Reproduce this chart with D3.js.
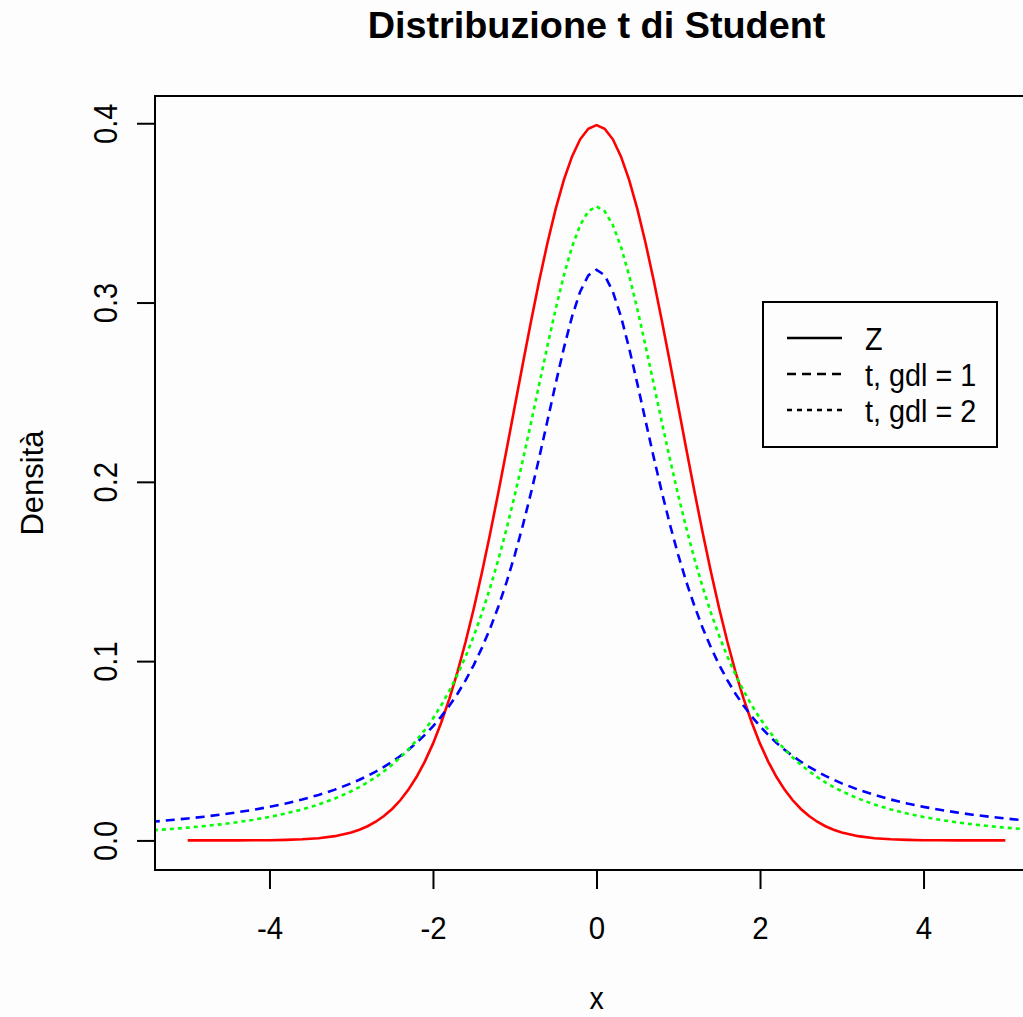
<!DOCTYPE html>
<html>
<head>
<meta charset="utf-8">
<script src="https://cdn.jsdelivr.net/npm/d3@7"></script>
<style>
  html, body { margin: 0; padding: 0; background: #fdfdfd; }
  svg { display: block; }
  text { font-family: "Liberation Sans", Arial, sans-serif; fill: #000; }
</style>
</head>
<body>
<script>
// Grid of x values for the t densities (finer near the centre)
const xT = [-6,-5.8,-5.6,-5.4,-5.2,-5,-4.8,-4.6,-4.4,-4.2,-4,-3.8,-3.6,-3.4,-3.2,
  -3,-2.9,-2.8,-2.7,-2.6,-2.5,-2.4,-2.3,-2.2,-2.1,-2,-1.9,-1.8,-1.7,-1.6,-1.5,-1.4,-1.3,-1.2,-1.1,
  -1,-0.9,-0.8,-0.7,-0.6,-0.5,-0.4,-0.3,-0.2,-0.1,0,0.1,0.2,0.3,0.4,0.5,0.6,0.7,0.8,0.9,
  1,1.1,1.2,1.3,1.4,1.5,1.6,1.7,1.8,1.9,2,2.1,2.2,2.3,2.4,2.5,2.6,2.7,2.8,2.9,3,
  3.2,3.4,3.6,3.8,4,4.2,4.4,4.6,4.8,5,5.2,5.4,5.6,5.8,6];

// Student t density, 1 degree of freedom
const densT1 = [0.00860,0.00919,0.00984,0.01055,0.01135,0.01224,0.01324,0.01436,0.01563,0.01708,
  0.01872,0.02062,0.02280,0.02534,0.02832,
  0.03183,0.03383,0.03601,0.03840,0.04102,0.04390,0.04709,0.05061,0.05451,0.05884,
  0.06366,0.06905,0.07507,0.08183,0.08941,0.09794,0.10754,0.11833,0.13046,0.14403,
  0.15915,0.17586,0.19409,0.21363,0.23405,0.25465,0.27441,0.29203,0.30607,0.31516,
  0.31831,
  0.31516,0.30607,0.29203,0.27441,0.25465,0.23405,0.21363,0.19409,0.17586,0.15915,
  0.14403,0.13046,0.11833,0.10754,0.09794,0.08941,0.08183,0.07507,0.06905,0.06366,
  0.05884,0.05451,0.05061,0.04709,0.04390,0.04102,0.03840,0.03601,0.03383,0.03183,
  0.02832,0.02534,0.02280,0.02062,0.01872,0.01708,0.01563,0.01436,0.01324,0.01224,
  0.01135,0.01055,0.00984,0.00919,0.00860];

// Student t density, 2 degrees of freedom
const densT2 = [0.00427,0.00470,0.00519,0.00575,0.00639,0.00713,0.00798,0.00897,0.01013,0.01149,
  0.01309,0.01500,0.01728,0.02003,0.02335,
  0.02741,0.02977,0.03240,0.03532,0.03857,0.04220,0.04626,0.05080,0.05590,0.06162,
  0.06804,0.07526,0.08337,0.09248,0.10270,0.11413,0.12690,0.14108,0.15673,0.17388,
  0.19245,0.21230,0.23313,0.25451,0.27582,0.29629,0.31501,0.33097,0.34321,0.35092,
  0.35355,
  0.35092,0.34321,0.33097,0.31501,0.29629,0.27582,0.25451,0.23313,0.21230,0.19245,
  0.17388,0.15673,0.14108,0.12690,0.11413,0.10270,0.09248,0.08337,0.07526,0.06804,
  0.06162,0.05590,0.05080,0.04626,0.04220,0.03857,0.03532,0.03240,0.02977,0.02741,
  0.02335,0.02003,0.01728,0.01500,0.01309,0.01149,0.01013,0.00897,0.00798,0.00713,
  0.00639,0.00575,0.00519,0.00470,0.00427];

// Grid of x values for the standard normal density
const xZ = [-5,-4.8,-4.6,-4.4,-4.2,-4,-3.8,-3.6,-3.4,-3.2,
  -3,-2.9,-2.8,-2.7,-2.6,-2.5,-2.4,-2.3,-2.2,-2.1,-2,-1.9,-1.8,-1.7,-1.6,-1.5,-1.4,-1.3,-1.2,-1.1,
  -1,-0.9,-0.8,-0.7,-0.6,-0.5,-0.4,-0.3,-0.2,-0.1,0,0.1,0.2,0.3,0.4,0.5,0.6,0.7,0.8,0.9,
  1,1.1,1.2,1.3,1.4,1.5,1.6,1.7,1.8,1.9,2,2.1,2.2,2.3,2.4,2.5,2.6,2.7,2.8,2.9,3,
  3.2,3.4,3.6,3.8,4,4.2,4.4,4.6,4.8,5];

// Standard normal density (Z)
const densZ = [0.00000,0.00000,0.00001,0.00002,0.00006,0.00013,0.00029,0.00061,0.00123,0.00238,
  0.00443,0.00595,0.00792,0.01042,0.01358,0.01753,0.02239,0.02833,0.03547,0.04398,
  0.05399,0.06562,0.07895,0.09405,0.11092,0.12952,0.14973,0.17137,0.19419,0.21785,
  0.24197,0.26609,0.28969,0.31225,0.33322,0.35207,0.36827,0.38139,0.39104,0.39695,
  0.39894,
  0.39695,0.39104,0.38139,0.36827,0.35207,0.33322,0.31225,0.28969,0.26609,0.24197,
  0.21785,0.19419,0.17137,0.14973,0.12952,0.11092,0.09405,0.07895,0.06562,0.05399,
  0.04398,0.03547,0.02833,0.02239,0.01753,0.01358,0.01042,0.00792,0.00595,0.00443,
  0.00238,0.00123,0.00061,0.00029,0.00013,0.00006,0.00002,0.00001,0.00000,0.00000];

const xTicks = [-4, -2, 0, 2, 4];
const yTicks = [0.0, 0.1, 0.2, 0.3, 0.4];
const titleText = "Distribuzione t di Student";
const xLabel = "x";
const yLabel = "Densità";
const legendLabels = ["Z", "t, gdl = 1", "t, gdl = 2"];

const W = 1023, H = 1017;
const plot = { left: 155, right: 1038, top: 96, bottom: 870 };

const svg = d3.select("body").append("svg")
  .attr("width", W).attr("height", H);

svg.append("rect").attr("width", W).attr("height", H).attr("fill", "#fdfdfd");

const x = d3.scaleLinear().domain([-5.4, 5.4]).range([plot.left, plot.right]);
const y = d3.scaleLinear().domain([-0.0165, 0.4152]).range([plot.bottom, plot.top]);

svg.append("clipPath").attr("id", "plotclip")
  .append("rect")
  .attr("x", plot.left).attr("y", plot.top)
  .attr("width", plot.right - plot.left).attr("height", plot.bottom - plot.top);

const line = d3.line().x(d => x(d[0])).y(d => y(d[1]));

const curves = svg.append("g").attr("clip-path", "url(#plotclip)")
  .attr("fill", "none").attr("stroke-width", 2.6);

curves.append("path").datum(d3.zip(xZ, densZ))
  .attr("stroke", "#ff0000").attr("d", line);
curves.append("path").datum(d3.zip(xT, densT1))
  .attr("stroke", "#0000ff").attr("stroke-dasharray", "9,6").attr("d", line);
curves.append("path").datum(d3.zip(xT, densT2))
  .attr("stroke", "#00ff00").attr("stroke-dasharray", "4,4").attr("d", line);

// Frame around the plotting region
svg.append("rect")
  .attr("x", plot.left).attr("y", plot.top)
  .attr("width", plot.right - plot.left).attr("height", plot.bottom - plot.top)
  .attr("fill", "none").attr("stroke", "#000").attr("stroke-width", 2);

// x axis
const gx = svg.append("g").attr("transform", `translate(0,${plot.bottom})`)
  .call(d3.axisBottom(x).tickValues(xTicks).tickSize(19).tickFormat(d3.format("d")));
gx.select(".domain").remove();
gx.selectAll(".tick line").attr("stroke", "#000").attr("stroke-width", 2);
gx.selectAll(".tick text")
  .attr("y", 69).attr("dy", null)
  .attr("font-size", 32)
  .attr("font-family", "Liberation Sans, Arial, sans-serif")
  .attr("transform", "scale(0.92,1)")
  .text(d => d < 0 ? "-" + Math.abs(d) : String(d));

// y axis
const gy = svg.append("g").attr("transform", `translate(${plot.left},0)`)
  .call(d3.axisLeft(y).tickValues(yTicks).tickSize(18).tickFormat(d3.format(".1f")));
gy.select(".domain").remove();
gy.selectAll(".tick line").attr("stroke", "#000").attr("stroke-width", 2);
gy.selectAll(".tick text")
  .attr("x", null).attr("y", null).attr("dy", null)
  .attr("text-anchor", "middle")
  .attr("font-size", 33)
  .attr("font-family", "Liberation Sans, Arial, sans-serif")
  .attr("transform", "translate(-38,0) rotate(-90) scale(0.88,1)");

// Title and axis titles
const midX = x(0);
svg.append("text")
  .attr("transform", `translate(${midX},38) scale(1.05,1)`)
  .attr("text-anchor", "middle")
  .attr("font-size", 36).attr("font-weight", "bold")
  .text(titleText);

svg.append("text")
  .attr("transform", `translate(${midX},1009) scale(0.95,1.05)`)
  .attr("text-anchor", "middle")
  .attr("font-size", 30)
  .text(xLabel);

svg.append("text")
  .attr("transform", `translate(43,${(plot.top + plot.bottom) / 2}) rotate(-90) scale(0.97,1)`)
  .attr("text-anchor", "middle")
  .attr("font-size", 32)
  .text(yLabel);

// Legend
const legend = svg.append("g");
legend.append("rect")
  .attr("x", 763).attr("y", 302).attr("width", 234).attr("height", 145)
  .attr("fill", "#fdfdfd").attr("stroke", "#000").attr("stroke-width", 2);

const legendDash = [null, "9,6", "5,5"];
const rowY = [338, 374, 410];
legendLabels.forEach((lab, i) => {
  legend.append("line")
    .attr("x1", 787).attr("x2", 842)
    .attr("y1", rowY[i]).attr("y2", rowY[i])
    .attr("stroke", "#000").attr("stroke-width", 2.4)
    .attr("stroke-dasharray", legendDash[i]);
  legend.append("text")
    .attr("transform", `translate(865,${rowY[i] + 12}) scale(0.9,1)`)
    .attr("font-size", 32)
    .text(lab);
});
</script>
</body>
</html>
